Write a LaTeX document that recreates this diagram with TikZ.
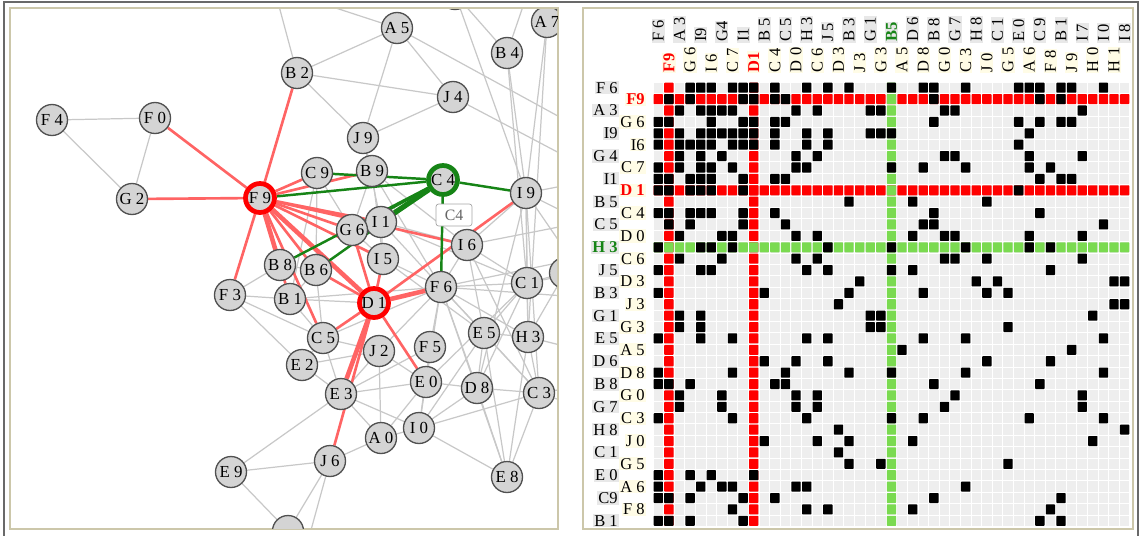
\documentclass[tikz,border=0pt]{standalone}
\usepackage{fontspec}
\setmainfont{Liberation Serif}
\usepackage{tikz}
\usetikzlibrary{positioning}
\definecolor{nodefill}{RGB}{212,212,212}
\definecolor{nodeline}{RGB}{80,80,80}
\definecolor{edgegray}{RGB}{200,200,200}
\definecolor{edgered}{RGB}{255,100,100}
\definecolor{edgegreen}{RGB}{22,132,22}
\definecolor{framekhaki}{RGB}{204,199,170}
\definecolor{framedark}{RGB}{105,105,105}
\definecolor{cellgray}{RGB}{238,238,238}
\definecolor{cellred}{RGB}{255,0,0}
\definecolor{cellgreen}{RGB}{122,218,80}
\definecolor{labgray}{RGB}{232,232,232}
\definecolor{labyellow}{RGB}{255,252,230}
\pgfdeclarelayer{edges}
\pgfsetlayers{edges,main}
\newcommand{\mcell}[3]{\fill[#1,rounded corners=0.4pt] ({#3-0.94},{#2-0.94}) rectangle ({#3-0.06},{#2-0.06});}

\begin{document}
\begin{tikzpicture}[x=0.02cm,y=-0.02cm,
  vtx/.style={circle,draw=nodeline,line width=0.75pt,fill=nodefill,minimum size=0.62cm,inner sep=0pt,font=\fontsize{9.6}{10}\selectfont},
  redvtx/.style={vtx,draw=red,line width=2.7pt,minimum size=0.58cm},
  grnvtx/.style={vtx,draw=edgegreen,line width=2.7pt,minimum size=0.58cm},
  gline/.style={edgegray,line width=0.7pt},
  rline/.style={edgered,line width=1.5pt},
  grline/.style={edgegreen,line width=1.4pt},
  tipbox/.style={draw=black!35,fill=white,rounded corners=1.5pt,minimum width=0.72cm,minimum height=0.44cm,inner sep=0pt,text=black!60,font=\fontsize{9}{9}\selectfont},
  clab/.style={rotate=90,anchor=west,inner sep=0.6pt,font=\fontsize{9.4}{9}\selectfont},
  clabhl/.style={clab,font=\fontsize{9.4}{9}\selectfont\bfseries},
  rlab/.style={anchor=east,inner sep=0.6pt,font=\fontsize{9.4}{9}\selectfont},
  rlabhl/.style={rlab,font=\fontsize{9.4}{9}\selectfont\bfseries}]
\useasboundingbox (0,0) rectangle (1143,535);
% frames
\draw[framedark,line width=0.7pt] (4,540) -- (4,2) -- (1138,2) -- (1138,540);
\draw[framekhaki,line width=1.3pt] (10,8) rectangle (558,529);
\draw[framekhaki,line width=1.3pt] (583,8) rectangle (1133,529);

% graph view
\coordinate (o1) at (272,-20);  \coordinate (o2) at (250,-20);
\coordinate (o3) at (620,150);  \coordinate (o4) at (620,185);
\coordinate (o5) at (520,-20);  \coordinate (o6) at (532,-20);
\coordinate (o7) at (565,-20);  \coordinate (o8) at (620,250);
\coordinate (o9) at (620,300);  \coordinate (o10) at (620,215);
\coordinate (o11) at (620,175); \coordinate (o12) at (620,240);
\coordinate (o13) at (620,330); \coordinate (o14) at (620,265);
\coordinate (o15) at (620,360); \coordinate (o16) at (620,420);
\coordinate (o17) at (620,380); \coordinate (o18) at (300,570);
\begin{scope}
  \clip (11,9) rectangle (557,528);
  \node[vtx] (F4) at (52,120) {F 4};
  \node[vtx] (F0) at (155,118) {F 0};
  \node[vtx] (G2) at (132,199) {G 2};
  \node[redvtx] (F9) at (260,198) {F 9};
  \node[vtx] (B2) at (297,73) {B 2};
  \node[vtx] (A5) at (397,28) {A 5};
  \node[vtx] (B4) at (507,53) {B 4};
  \node[vtx] (A7) at (547,22) {A 7};
  \node[vtx] (Tp) at (455,-6) {};
  \node[vtx] (J4) at (453,97) {J 4};
  \node[vtx] (J9) at (363,138) {J 9};
  \node[vtx] (C9) at (317,173) {C 9};
  \node[vtx] (B9) at (372,171) {B 9};
  \node[grnvtx] (C4) at (443,180) {C 4};
  \node[vtx] (I9) at (526,193) {I 9};
  \node[vtx] (I1) at (381,222) {I 1};
  \node[vtx] (G6) at (352,230) {G 6};
  \node[vtx] (I6) at (467,245) {I 6};
  \node[vtx] (I5) at (383,259) {I 5};
  \node[vtx] (B8) at (280,265) {B 8};
  \node[vtx] (B6) at (316,270) {B 6};
  \node[vtx] (F3) at (230,295) {F 3};
  \node[vtx] (B1) at (290,299) {B 1};
  \node[redvtx] (D1) at (374,303) {D 1};
  \node[vtx] (F6) at (441,287) {F 6};
  \node[vtx] (C1) at (527,283) {C 1};
  \node[vtx] (Cx) at (565,273) {};
  \node[vtx] (C5) at (323,338) {C 5};
  \node[vtx] (J2) at (379,351) {J 2};
  \node[vtx] (F5) at (430,347) {F 5};
  \node[vtx] (E2) at (302,365) {E 2};
  \node[vtx] (E5) at (484,333) {E 5};
  \node[vtx] (H3) at (528,337) {H 3};
  \node[vtx] (E3) at (341,394) {E 3};
  \node[vtx] (E0) at (426,382) {E 0};
  \node[vtx] (D8) at (477,388) {D 8};
  \node[vtx] (C3) at (539,393) {C 3};
  \node[vtx] (A0) at (381,438) {A 0};
  \node[vtx] (I0) at (419,428) {I 0};
  \node[vtx] (E9) at (231,472) {E 9};
  \node[vtx] (J6) at (330,461) {J 6};
  \node[vtx] (E8) at (507,477) {E 8};
  \node[vtx] (Bt) at (288,531) {};
  \node[tipbox] (tip) at (454,215) {C4};
\end{scope}
\begin{pgfonlayer}{edges}
\begin{scope}
  \clip (11,9) rectangle (557,528);
  \foreach \a/\b in {F4/F0,F4/G2,F0/G2,B2/A5,B2/J4,B2/J9,B2/o1,A5/o2,A5/J9,A5/J4,A5/o3,J4/J9,J4/o4,
      Tp/B4,Tp/I9,Tp/o5,B4/I9,B4/C1,B4/o6,A7/I9,A7/H3,A7/o7,J9/B9,J9/I1,B9/I5,B9/F6,B9/I6,B9/G6,
      C9/G6,C9/B6,C9/B1,I1/I5,I1/F6,I1/I6,I1/C1,G6/I5,I5/F6,I5/E5,B8/B1,B8/B6,B6/B1,B6/C5,B1/C5,
      B1/D1,B1/F6,F3/B8,F3/B1,F3/E2,F3/C5,C5/E2,C5/J2,C5/E3,C5/F6,E2/E3,E2/J2,J2/E0,J2/A0,J2/E3,
      J2/F6,F5/E0,F5/F6,F5/E3,F5/I0,F6/C1,F6/E5,F6/H3,F6/D8,F6/C3,F6/I6,F6/E0,F6/o8,F6/o9,F6/E8,
      I6/I9,I6/C1,I6/E5,I6/o10,I6/C3,I9/C1,I9/H3,I9/C3,I9/o11,I9/o12,I9/o13,I9/D8,C1/H3,C1/E5,
      C1/o14,C1/Cx,C1/D8,E5/H3,E5/D8,E5/E8,E5/C3,E5/I0,H3/C3,H3/E8,H3/o15,H3/Cx,D8/E8,D8/C3,
      D8/E0,D8/I0,C3/E8,C3/o16,C3/o17,E0/I0,E0/E3,E0/A0,E0/C1,I0/E8,I0/C3,I0/A0,A0/E3,A0/J6,
      E3/E9,E3/I0,J6/E9,J6/Bt,E9/Bt,J6/o18}
    \draw[gline] (\a) -- (\b);
  % links of the selected rows
  \foreach \a/\b in {F9/F0,F9/G2,F9/B2,F9/F3,F9/C9,F9/B9,F9/I1,F9/G6,F9/I5,F9/B6,F9/C5,F9/B1,F9/I6,
      D1/C5,D1/J6,D1/E0,D1/I9,D1/B6,D1/G6,D1/I5}
    \draw[rline] (\a) -- (\b);
  \draw[rline,line width=2.6pt] (F9) -- (B8);
  \draw[rline,line width=2.6pt] (F9) -- (D1);
  \draw[rline,line width=2.6pt] (D1) -- (E3);
  \draw[rline,line width=2.6pt] (D1) -- (F6);
  % links of the hovered node
  \foreach \b in {F9,C9,I9,B8,B6,F6,G6}
    \draw[grline] (C4) -- (\b);
  \draw[grline,line width=3pt] (C4) -- (I1);
\end{scope}
\end{pgfonlayer}

% matrix view
\begin{scope}[shift={(653,82)},x=0.212cm,y=-0.228cm]
  \fill[cellgray] (0,0) rectangle (45,39);
  \foreach \i in {0,...,45} \draw[white,line width=0.5pt] (\i,0) -- (\i,39);
  \foreach \j in {0,...,39} \draw[white,line width=0.5pt] (0,\j) -- (45,\j);
  \foreach \c in {1,...,45} {\mcell{cellred}{2}{\c} \mcell{cellred}{10}{\c}}
  \foreach \r in {1,...,39} {\mcell{cellred}{\r}{2} \mcell{cellred}{\r}{10}}
  \foreach \c in {1,...,45} {\mcell{cellgreen}{15}{\c}}
  \foreach \r in {1,...,39} {\mcell{cellgreen}{\r}{23}}
  \foreach \r/\cl in {1/{4,5,6,8,9,10,12,15,17,19,23,26,27,30,35,36,37,39,40,43},
      2/{2,4,9,10,12,13,27,37,39}, 3/{3,5,6,7,8,14,16,21,22,28,29,41},
      4/{1,2,6,9,10,12,13,27,35,37,39,40}, 5/{1,3,5,6,7,8,9,10,12,15,17,21,22,23,36},
      6/{1,3,4,5,6,8,9,10,12,15,17,35}, 7/{3,5,7,14,16,28,29,36,41},
      8/{1,3,5,6,8,14,15,23,26,30,36,38}, 9/{1,2,4,5,6,9,12,13,37,39,40},
      10/{1,2,4,5,6,9,35}, 11/{19,25,32}, 12/{1,2,4,5,6,9,12,27,37},
      13/{2,4,9,13,26,27,43}, 14/{3,7,8,14,16,25,28,29,36,41}, 15/{1,5,6,8,17,23,30,36,38},
      16/{3,7,14,16,28,29,32,41}, 17/{1,5,6,15,17,23,25,38}, 18/{20,31,33,44,45},
      19/{1,11,19,26,32,34}, 20/{18,44,45}, 21/{3,5,21,22,42}, 22/{3,5,21,22,34},
      23/{1,5,8,15,17,26,30,43}, 24/{24,40}, 25/{11,14,17,32,38}, 26/{1,8,13,19,23,30,43},
      27/{1,2,4,12,13,27,37}, 28/{3,7,14,16,29,41}, 29/{3,7,14,16,28,41},
      30/{1,8,15,23,26,36,43}, 31/{18,45}, 32/{11,16,19,25,42}, 33/{18}, 34/{19,22,34},
      35/{1,4,6,10}, 36/{1,5,7,8,14,15,30}, 37/{1,2,4,9,12,27,39}, 38/{8,15,17,25,38},
      39/{1,2,4,9,37,39}}
    {\foreach \c in \cl {\mcell{black}{\r}{\c}}}
  % column labels
  \foreach \c/\t in {1/F 6,3/A 3,5/I9,7/G4,9/I1,11/B 5,13/C 5,15/H 3,17/J 5,19/B 3,21/G 1,
      25/D 6,27/B 8,29/G 7,31/H 8,33/C 1,35/E 0,37/C 9,39/B 1,41/I 7,43/I 0,45/I 8}
    \node[clab,fill=labgray] (ct\c) at (\c-0.5,-3.4) {\t};
  \node[clabhl,fill=labgray,text=edgegreen] (ct23) at (22.5,-3.4) {B5};
  \foreach \c/\t in {4/G 6,6/I 6,8/C 7,12/C 4,14/D 0,16/C 6,18/D 3,20/J 3,22/G 3,24/A 5,
      26/D 8,28/G 0,30/C 3,32/J 0,34/G 5,36/A 6,38/F 8,40/J 9,42/H 0,44/H 1}
    \node[clab,fill=labyellow] (cb\c) at (\c-0.5,-0.75) {\t};
  \node[clabhl,fill=labyellow,text=red] (cb2) at (1.5,-0.75) {F9};
  \node[clabhl,fill=labyellow,text=red] (cb10) at (9.5,-0.75) {D1};
  % row labels
  \foreach \r/\t in {1/F 6,3/A 3,5/I9,7/G 4,9/I1,11/B 5,13/C 5,17/J 5,19/B 3,21/G 1,23/E 5,
      25/D 6,27/B 8,29/G 7,31/H 8,33/C 1,35/E 0,37/C9,39/B 1}
    \node[rlab,fill=labgray] (rl\r) at (-3.2,\r-0.5) {\t};
  \node[rlabhl,fill=labgray,text=edgegreen] (rl15) at (-3.2,14.5) {H 3};
  \foreach \r/\t in {4/G 6,6/I6,8/C 7,12/C 4,14/D 0,16/C 6,18/D 3,20/J 3,22/G 3,24/A 5,
      26/D 8,28/G 0,30/C 3,32/J 0,34/G 5,36/A 6,38/F 8}
    \node[rlab,fill=labyellow] (rr\r) at (-0.66,\r-0.5) {\t};
  \node[rlabhl,fill=labyellow,text=red] (rr2) at (-0.66,1.5) {F9};
  \node[rlabhl,fill=labyellow,text=red] (rr10) at (-0.66,9.5) {D 1};
\end{scope}
\end{tikzpicture}
\end{document}
